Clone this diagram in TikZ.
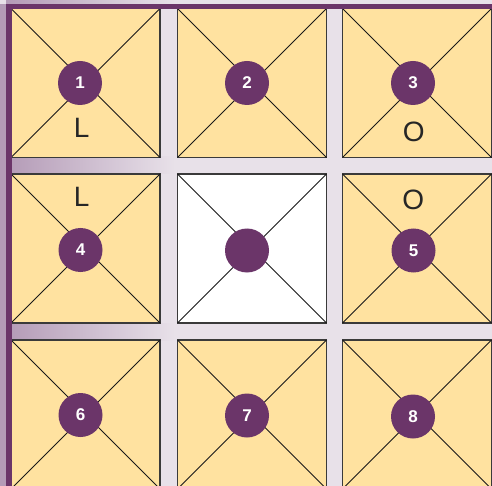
\documentclass[tikz,border=0pt]{standalone}
\usepackage{fontspec}
\setmainfont{Liberation Sans}
\definecolor{bgc}{HTML}{E8E1E9}
\definecolor{lightpurp}{HTML}{B49BB7}
\definecolor{darkpurp}{HTML}{6B3569}
\definecolor{tilefill}{HTML}{FFE2A0}
\definecolor{tileedge}{HTML}{3A3A3A}
\begin{document}
\begin{tikzpicture}[x=1pt,y=-1pt,
  tile/.style={draw=tileedge, line width=1.1pt, fill=tilefill, rectangle,
    minimum width=149pt, minimum height=149pt, inner sep=0pt, outer sep=0pt},
  emptytile/.style={tile, fill=white},
  diag/.style={draw=black!90, line width=1pt},
  badge/.style={circle, fill=darkpurp, minimum size=44pt, inner sep=0pt,
    text=white, font=\bfseries\fontsize{17}{17}\selectfont},
  letter/.style={inner sep=0pt, text=black!85, font=\fontsize{28}{28}\selectfont}]
\useasboundingbox (0,0) rectangle (492,486);
\fill[bgc] (0,0) rectangle (492,486);
% gradient bars
\shade[left color=lightpurp, right color=bgc] (6,0) rectangle (175,4);
\shade[left color=lightpurp, right color=bgc] (6,157) rectangle (175,173.5);
\shade[left color=lightpurp, right color=bgc] (6,323) rectangle (175,340);
% tiles
\node[tile] (s1) at (85.5,83) {};
\node[tile] (s2) at (252,83) {};
\node[tile] (s3) at (417,83) {};
\node[tile] (s4) at (85.5,248.5) {};
\node[emptytile] (s0) at (252,248.5) {};
\node[tile] (s5) at (417,248.5) {};
\node[tile] (s6) at (85.5,414.5) {};
\node[tile] (s7) at (252,414.5) {};
\node[tile] (s8) at (417,414.5) {};
\foreach \s in {s1,s2,s3,s4,s0,s5,s6,s7,s8}{
  \draw[diag] (\s.north west) -- (\s.south east);
  \draw[diag] (\s.south west) -- (\s.north east);
}
% frame bars
\fill[lightpurp] (0,4) rectangle (6,486);
\fill[darkpurp] (6,4) rectangle (492,9);
\fill[darkpurp] (6,4) rectangle (11.5,486);
% badges
\node[badge] (c1) at (80,83) {1};
\node[badge] (c2) at (247,83) {2};
\node[badge] (c3) at (413,83) {3};
\node[badge] (c4) at (80.5,250) {4};
\node[badge] (c0) at (247,250.5) {};
\node[badge] (c5) at (413.5,250.5) {5};
\node[badge] (c6) at (80.5,415) {6};
\node[badge] (c7) at (247,415.5) {7};
\node[badge] (c8) at (413,416.5) {8};
% letters
\node[letter] (l1) at (81.7,128) {L};
\node[letter] (l4) at (81.7,197) {L};
\node[letter] (o3) at (413.8,131.5) {O};
\node[letter] (o5) at (413.3,199.5) {O};
\end{tikzpicture}
\end{document}
